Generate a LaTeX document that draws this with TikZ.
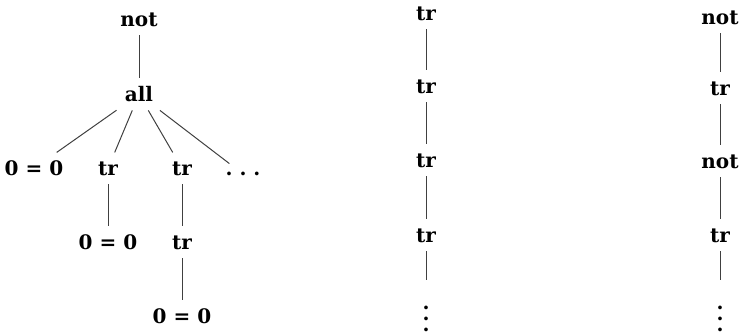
\documentclass[tikz,border=0pt]{standalone}
\usepackage{fontspec}
\setmainfont{DejaVu Serif}
\newcommand{\termvdots}{\vbox{\baselineskip5.5pt\lineskiplimit0pt\kern9pt\hbox{.}\hbox{.}\hbox{.}}}
\newcommand{\termhdots}{.\kern3.5pt.\kern3.5pt.}
\newcommand{\zeroeq}{0 = 0}
\begin{document}
\begin{tikzpicture}[x=0.5pt,y=-0.5pt]
% styles
\tikzset{plainterm/.style={font=\fontsize{10}{12}\selectfont\bfseries, inner sep=4pt, anchor=base}}
\tikzset{term/.style={plainterm, text height=7.6pt, text depth=0pt}}
\tikzset{edge/.style={line width=0.5pt, color=black!75}}
\useasboundingbox (0,0) rectangle (740,335);

% the left tree
\node [term] (lnot) at (139,27) {not};
\node [term] (lall) at (139,102) {all};
\node [term] (leqa) at (34,176) {\zeroeq};
\node [term] (ltra) at (108,176) {tr};
\node [term] (ltrb) at (182,176) {tr};
\node [plainterm, text height=2pt, text depth=0pt] (ldots) at (243,176) {\termhdots};
\node [term] (leqb) at (108,250) {\zeroeq};
\node [term] (ltrc) at (182,250) {tr};
\node [term] (leqc) at (182,324) {\zeroeq};

\draw [edge] (lnot) -- (lall);
\foreach \child in {leqa,ltra,ltrb,ldots} {
\draw [edge] (lall) -- (\child);
}
\draw [edge] (ltra) -- (leqb);
\draw [edge] (ltrb) -- (ltrc);
\draw [edge] (ltrc) -- (leqc);

% the middle column
\foreach \lab/\y [count=\i] in {tr/21,tr/94,tr/168,tr/243} {
\node [term] (mid\i) at (426,\y) {\lab};
}
\node [plainterm] (mid5) at (426,332) {\termvdots};
\foreach \i [evaluate=\i as \j using int(\i+1)] in {1,...,4} {
\draw [edge] (mid\i) -- (mid\j);
}

% the right column
\foreach \lab/\y [count=\i] in {not/25,tr/96,not/169,tr/243} {
\node [term] (rgt\i) at (720,\y) {\lab};
}
\node [plainterm] (rgt5) at (720,332) {\termvdots};
\foreach \i [evaluate=\i as \j using int(\i+1)] in {1,...,4} {
\draw [edge] (rgt\i) -- (rgt\j);
}
\end{tikzpicture}
\end{document}
